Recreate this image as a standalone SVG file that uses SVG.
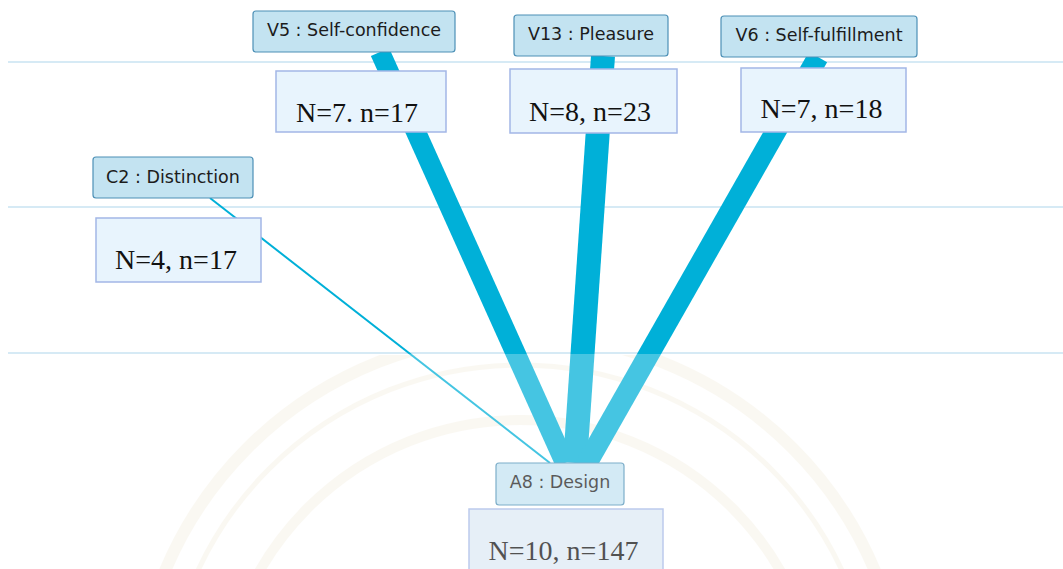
<svg xmlns="http://www.w3.org/2000/svg" width="1063" height="569" viewBox="0 0 1063 569">
  <style>
    .rule { stroke: #d6eaf5; stroke-width: 2; fill: none; }
    .link { stroke: #00b0d8; fill: none; stroke-linecap: butt; }
    .node rect.lbl { fill: #c3e3f1; stroke: #4d90b6; stroke-width: 1.2; }
    .node text.lbl { font-family: "DejaVu Sans", Verdana, sans-serif; font-size: 17.5px; fill: #1c1c1c; text-anchor: middle; }
    .node rect.cnt { fill: #e8f4fd; stroke: #a3b6e6; stroke-width: 1.5; }
    .node text.cnt { font-family: "Liberation Serif", "Times New Roman", serif; font-size: 28px; fill: #111; text-anchor: middle; }
    .seal { fill: none; stroke: #ece2c6; }
  </style>

  <defs>
    <clipPath id="lower">
      <rect x="0" y="355" width="1063" height="214"/>
    </clipPath>
  </defs>

  <rect width="1063" height="569" fill="#ffffff"/>

  <!-- faint seal behind the lower band -->
  <g id="seal" opacity="0.3" clip-path="url(#lower)">
    <circle class="seal" cx="520" cy="720" r="385" stroke-width="12"/>
    <circle class="seal" cx="520" cy="720" r="355" stroke-width="5"/>
    <circle class="seal" cx="520" cy="720" r="300" stroke-width="10"/>
  </g>

  <!-- level rules -->
  <g id="rules">
    <line class="rule" x1="8" y1="62" x2="1063" y2="62"/>
    <line class="rule" x1="8" y1="207" x2="1063" y2="207"/>
    <line class="rule" x1="8" y1="353" x2="1063" y2="353"/>
  </g>

  <!-- connectors -->
  <g id="connectors">
    <line class="link" x1="380" y1="52" x2="565" y2="463" stroke-width="20"/>
    <line class="link" x1="603" y1="56" x2="575" y2="463" stroke-width="24"/>
    <line class="link" x1="818" y1="57" x2="587" y2="463" stroke-width="21"/>
    <line class="link" x1="210" y1="198" x2="550" y2="463" stroke-width="2" stroke="#14b4d9"/>
  </g>

  <!-- nodes -->
  <g id="node-v5" class="node">
    <rect class="lbl" x="253" y="11" width="202" height="41" rx="3"/>
    <text class="lbl" x="354" y="36">V5 : Self-confidence</text>
    <rect class="cnt" x="276" y="71" width="170" height="61"/>
    <text class="cnt" x="357" y="122">N=7. n=17</text>
  </g>

  <g id="node-v13" class="node">
    <rect class="lbl" x="514" y="15" width="154" height="41" rx="3"/>
    <text class="lbl" x="591" y="40">V13 : Pleasure</text>
    <rect class="cnt" x="510" y="69" width="167" height="64"/>
    <text class="cnt" x="590" y="121">N=8, n=23</text>
  </g>

  <g id="node-v6" class="node">
    <rect class="lbl" x="721" y="16" width="196" height="41" rx="3"/>
    <text class="lbl" x="819" y="41">V6 : Self-fulfillment</text>
    <rect class="cnt" x="741" y="68" width="165" height="64"/>
    <text class="cnt" x="821.5" y="118">N=7, n=18</text>
  </g>

  <g id="node-c2" class="node">
    <rect class="lbl" x="93" y="157" width="160" height="41" rx="3"/>
    <text class="lbl" x="173" y="183">C2 : Distinction</text>
    <rect class="cnt" x="96" y="218" width="165" height="64"/>
    <text class="cnt" x="176" y="269">N=4, n=17</text>
  </g>

  <g id="node-a8" class="node">
    <rect class="lbl" x="496" y="463" width="128" height="42" rx="3"/>
    <text class="lbl" x="560" y="488">A8 : Design</text>
    <rect class="cnt" x="469" y="509" width="194" height="70" style="fill:#dde9f5"/>
    <text class="cnt" x="563.5" y="560">N=10, n=147</text>
  </g>

  <!-- translucent veil over the lower band -->
  <rect id="veil" x="0" y="354" width="1063" height="215" fill="#ffffff" opacity="0.27"/>
</svg>
